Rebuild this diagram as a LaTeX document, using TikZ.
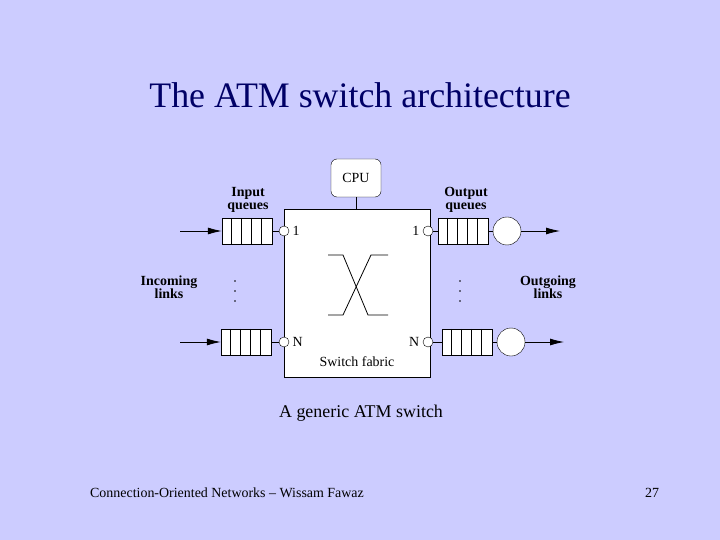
\documentclass[tikz,border=0pt]{standalone}
\usepackage{fontspec}
\setmainfont{Liberation Serif}
\usetikzlibrary{arrows.meta, positioning}
\definecolor{slidebg}{RGB}{204,204,255}
\definecolor{titleblue}{RGB}{0,0,102}

\begin{document}
\begin{tikzpicture}[
    x=1bp, y=-1bp,
    queue/.style={rectangle, draw, fill=white, minimum width=50bp, minimum height=26bp, inner sep=0pt},
    port/.style={circle, draw, fill=white, minimum size=10bp, inner sep=0pt},
    server/.style={circle, draw, fill=white, minimum size=28bp, inner sep=0pt},
    lbl/.style={font=\fontsize{14}{13}\selectfont\bfseries, align=center},
    arrow/.style={-{Latex[length=14bp, width=7bp]}, thick}
]
\fill[slidebg] (0,0) rectangle (720,540);
\useasboundingbox (0,0) rectangle (720,540);

% Title and captions
\node[text=titleblue, font=\fontsize{36}{40}\selectfont] (title) at (360,95) {The ATM switch architecture};
\node[font=\fontsize{18}{20}\selectfont] (caption) at (361,413) {A generic ATM switch};
\node[font=\fontsize{14}{16}\selectfont] (footer) at (227,493) {Connection-Oriented Networks -- Wissam Fawaz};
\node[font=\fontsize{14}{16}\selectfont] (page) at (652,493) {27};

% Switch fabric and CPU
\node[draw, fill=white, minimum width=146bp, minimum height=168bp, inner sep=0pt] (fabric) at (357,293) {};
\node[font=\fontsize{14}{16}\selectfont] (fablabel) at (357,362) {Switch fabric};
\node[draw, fill=white, rounded corners=6bp, minimum width=50bp, minimum height=38bp, font=\fontsize{14}{16}\selectfont] (cpu) at (356,178) {CPU};
\draw (cpu) -- (fabric.north -| cpu);

% Crossbar
\draw[thick] (328,255) -- (343,255) -- (368,315) -- (388,315);
\draw[thick] (388,255) -- (371,255) -- (343,315) -- (328,315);

% Input side
\node[queue] (inq1) at (247,231) {};
\node[queue] (inqN) at (246,342) {};
\foreach \q in {inq1, inqN}
  \foreach \i in {1,2,3,4}
    \draw[thick] ([xshift=\i*10bp]\q.north west) -- ([xshift=\i*10bp]\q.south west);
\node[port] (inp1) at (284,231) {};
\node[port] (inpN) at (284,342) {};
\draw (inq1) -- (inp1);
\draw (inqN) -- (inpN);
\coordinate (src1) at (180,231);
\coordinate (srcN) at (180,342);
\draw[arrow] (src1) -- (inq1);
\draw[arrow] (srcN) -- (inqN);
\node[font=\fontsize{14}{16}\selectfont, right=0pt of inp1] (lin1) {1};
\node[font=\fontsize{14}{16}\selectfont, right=0pt of inpN] (linN) {N};
\node[lbl] (inlabel) at (248,200) {Input\\queues};
\node[lbl] (incoming) at (169,287) {Incoming\\links};
\foreach \y in {281,291,301}
  \fill (235,\y) circle (0.9bp);

% Output side
\node[port] (outp1) at (428,231) {};
\node[port] (outpN) at (428,342) {};
\node[queue] (outq1) at (463,231) {};
\node[queue] (outqN) at (467,342) {};
\foreach \q in {outq1, outqN}
  \foreach \i in {1,2,3,4}
    \draw[thick] ([xshift=\i*10bp]\q.north west) -- ([xshift=\i*10bp]\q.south west);
\node[server] (srv1) at (507,231) {};
\node[server] (srvN) at (511,342) {};
\draw (outp1) -- (outq1);
\draw (outpN) -- (outqN);
\draw (outq1) -- (srv1);
\draw (outqN) -- (srvN);
\coordinate (dst1) at (560,231);
\coordinate (dstN) at (564,342);
\draw[arrow] (srv1) -- (dst1);
\draw[arrow] (srvN) -- (dstN);
\node[font=\fontsize{14}{16}\selectfont, left=0pt of outp1] (lout1) {1};
\node[font=\fontsize{14}{16}\selectfont, left=0pt of outpN] (loutN) {N};
\node[lbl] (outlabel) at (466,200) {Output\\queues};
\node[lbl] (outgoing) at (548,287) {Outgoing\\links};
\foreach \y in {281,291,301}
  \fill (460,\y) circle (0.9bp);
\end{tikzpicture}
\end{document}
